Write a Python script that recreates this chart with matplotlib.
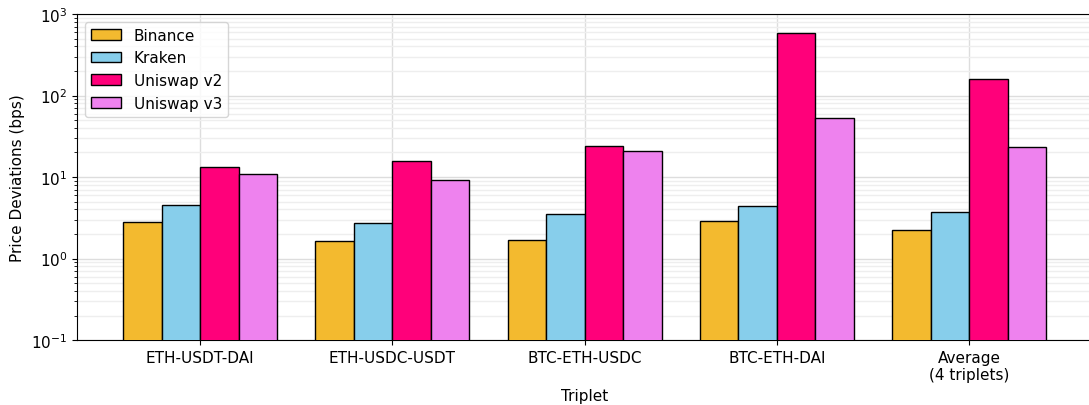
import numpy as np
import matplotlib
matplotlib.use('Agg')
import matplotlib.pyplot as plt

triplets = ['ETH-USDT-DAI', 'ETH-USDC-USDT', 'BTC-ETH-USDC', 'BTC-ETH-DAI', 'Average\n(4 triplets)']
venues = ['Binance', 'Kraken', 'Uniswap v2', 'Uniswap v3']
binance = [2.81, 1.65, 1.69, 2.86, 2.25]
kraken = [4.49, 2.70, 3.52, 4.37, 3.76]
uniswap_v2 = [13.25, 15.8, 23.7, 589, 160]
uniswap_v3 = [10.9, 9.1, 21.1, 53.2, 23.5]
colors = ['#F3BA2F', '#87CEEB', '#FF007A', '#EE82EE']

series = [binance, kraken, uniswap_v2, uniswap_v3]
x = np.arange(len(triplets))
width = 0.2

fig, ax = plt.subplots(figsize=(10.89, 4.06), dpi=100)
for i, (name, vals) in enumerate(zip(venues, series)):
    ax.bar(x + (i - 1.5) * width, vals, width, label=name, color=colors[i],
           edgecolor='black', linewidth=1, zorder=3)

ax.set_yscale('log')
ax.set_ylim(0.1, 1000)
ax.set_xticks(x)
ax.set_xticklabels(triplets, fontsize=11)
ax.tick_params(axis='y', labelsize=11)
ax.set_xlabel('Triplet', fontsize=11)
ax.set_ylabel('Price Deviations (bps)', fontsize=11)
ax.grid(True, which='major', color='#dddddd', linewidth=1, zorder=0)
ax.grid(True, which='minor', axis='y', color='#eeeeee', linewidth=1, zorder=0)
ax.legend(loc='upper left', fontsize=11)

plt.subplots_adjust(left=0.0707, right=1.003, top=0.963, bottom=0.16)
plt.savefig('out.png')
